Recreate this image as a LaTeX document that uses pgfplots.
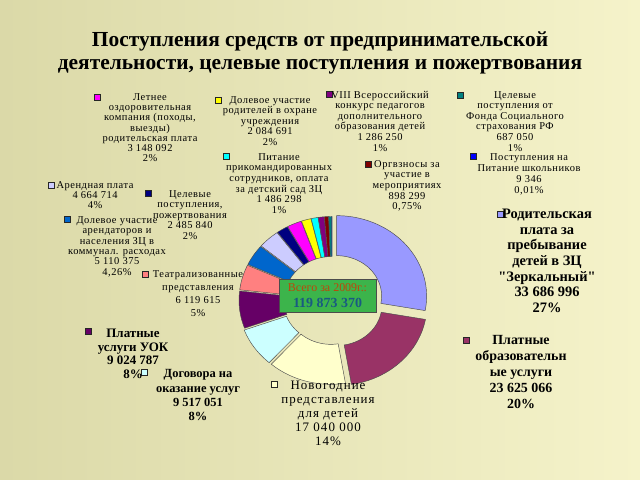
\documentclass[border=0pt]{standalone}
\usepackage{fontspec}
\setmainfont{Liberation Serif}
\newfontfamily\qfont{Liberation Serif}[Ligatures=TeXOff]
\usepackage{pgfplots}
\usepackage{pgfplotstable}
\pgfplotsset{compat=1.18}

\definecolor{c0}{HTML}{9999FF}
\definecolor{c1}{HTML}{993366}
\definecolor{c2}{HTML}{FFFFCC}
\definecolor{c3}{HTML}{CCFFFF}
\definecolor{c4}{HTML}{660066}
\definecolor{c5}{HTML}{FF8080}
\definecolor{c6}{HTML}{0066CC}
\definecolor{c7}{HTML}{CCCCFF}
\definecolor{c8}{HTML}{000080}
\definecolor{c9}{HTML}{FF00FF}
\definecolor{c10}{HTML}{FFFF00}
\definecolor{c11}{HTML}{00FFFF}
\definecolor{c12}{HTML}{800080}
\definecolor{c13}{HTML}{800000}
\definecolor{c14}{HTML}{008080}
\definecolor{c15}{HTML}{0000FF}
\definecolor{bgl}{RGB}{219,217,168}
\definecolor{bgr}{RGB}{245,243,202}
\definecolor{boxg}{RGB}{60,180,75}
\definecolor{totc}{RGB}{190,70,10}
\definecolor{totn}{RGB}{25,90,130}

% income items, roubles, in the order of the ring (clockwise from the top)
\pgfplotstableread{
value
33686996
23625066
17040000
9517051
9024787
6119615
5110375
4664714
2485840
3148092
2084691
1486298
1286250
898299
687050
9346
}\slices

\xdef\total{0}
\foreach \i in {0,...,15}{\pgfplotstablegetelem{\i}{value}\of\slices
  \xdef\total{\fpeval{\total+\pgfplotsretval}}}
\xdef\cum{0}
\foreach \i in {0,...,15}{\pgfplotstablegetelem{\i}{value}\of\slices
  \expandafter\xdef\csname sa\i\endcsname{\fpeval{round(90-360*\cum/\total,4)}}%
  \xdef\cum{\fpeval{\cum+\pgfplotsretval}}%
  \expandafter\xdef\csname ea\i\endcsname{\fpeval{round(90-360*\cum/\total,4)}}}

% ring geometry (in px of a 640x480 picture, y up)
\def\cx{332}\def\cy{180}\def\rxo{90}\def\ryo{80.5}\def\rxi{45}\def\ryi{40.5}

\newcommand\slice[4]{%
 \addplot[fill=#3, draw=black!70, line width=0.45pt, domain=0:2, samples=121, variable=\t]
 ({\cx+(#4)*cos(0.5*((#1)+(#2))) + (\t<1.001 ? \rxo : \rxi)*cos(\t<1.001 ? ((#1)+((#2)-(#1))*min(\t,1)) : ((#2)-((#2)-(#1))*max(\t-1-1/60,0)*60/59))},
  {\cy+(#4)*sin(0.5*((#1)+(#2))) + (\t<1.001 ? \ryo : \ryi)*sin(\t<1.001 ? ((#1)+((#2)-(#1))*min(\t,1)) : ((#2)-((#2)-(#1))*max(\t-1-1/60,0)*60/59))}) -- cycle;
}
\newcommand\ringslice[3]{\edef\tmp{\noexpand\slice{\csname sa#1\endcsname}{\csname ea#1\endcsname}{#2}{#3}}\tmp}
\newcommand\key[3]{\addplot[only marks, mark=square*, mark size=3.3, mark options={fill=#1, draw=black!85, line width=0.4pt}] coordinates {(#2,#3)};}
% label: [extra font], x, y of first line centre (image px), size, leading, text
\newcommand\lab[6][]{\node[anchor=north, align=center, inner sep=0, font=\fontsize{#4}{#5}\selectfont#1] at (#2,{480-(#3+0.3*#4-0.7*#5)}) {\strut #6};}
\newcommand\lsA{\addfontfeature{LetterSpace=5}}
\newcommand\lsB{\addfontfeature{LetterSpace=8}}
\newcommand\stq{{\qfont"}}

\begin{document}
\begin{tikzpicture}[x=1bp,y=1bp]
\useasboundingbox (0,0) rectangle (640,480);
\shade[left color=bgl, right color=bgr] (0,0) rectangle (640,480);
\begin{axis}[at={(0,0)}, anchor=south west, scale only axis, width=640bp, height=480bp,
  xmin=0, xmax=640, ymin=0, ymax=480, hide axis, clip=false]
\ringslice{0}{c0}{6}
\ringslice{1}{c1}{7}
\ringslice{2}{c2}{4}
\ringslice{3}{c3}{4}
\ringslice{4}{c4}{3}
\ringslice{5}{c5}{3}
\ringslice{6}{c6}{3}
\ringslice{7}{c7}{3}
\ringslice{8}{c8}{3}
\ringslice{9}{c9}{3}
\ringslice{10}{c10}{3}
\ringslice{11}{c11}{3}
\ringslice{12}{c12}{3}
\ringslice{13}{c13}{3}
\ringslice{14}{c14}{3}
\ringslice{15}{c15}{3}
\key{c9}{97}{383}
\key{c10}{218}{380}
\key{c12}{329}{386}
\key{c14}{460}{385}
\key{c11}{226}{324}
\key{c13}{368}{316}
\key{c15}{473}{324}
\key{c7}{51}{295}
\key{c8}{148}{287}
\key{c6}{67}{261}
\key{c5}{145}{206}
\key{c4}{88}{149}
\key{c3}{144}{108}
\key{c2}{274}{96}
\key{c1}{466}{140}
\key{c0}{500}{266}
\end{axis}

\lab[\bfseries]{320}{40}{21.5}{23}{Поступления средств от предпринимательской\\деятельности, целевые поступления и пожертвования}

\lab[\lsA]{150}{97}{10.5}{10.3}{Летнее\\оздоровительная\\компания (походы,\\выезды)\\родительская плата\\3 148 092\\2\%}
\lab[\lsA]{270}{100}{10.5}{10.5}{Долевое участие\\родителей в охране\\учреждения\\2 084 691\\2\%}
\lab[\lsA]{380}{95}{10.5}{10.6}{VIII Всероссийский\\конкурс педагогов\\дополнительного\\образования детей\\1 286 250\\1\%}
\lab[\lsA]{515}{95}{10.5}{10.6}{Целевые\\поступления от\\Фонда Социального\\страхования РФ\\687 050\\1\%}
\lab[\lsA]{279}{157}{10.5}{10.7}{Питание\\прикомандированных\\сотрудников, оплата\\за детский сад ЗЦ\\1 486 298\\1\%}
\lab[\lsA]{407}{164}{10.5}{10.7}{Оргвзносы за\\участие в\\мероприятиях\\898 299\\0,75\%}
\lab[\lsA]{529}{157}{10.5}{11}{Поступления на\\Питание школьников\\9 346\\0,01\%}
\lab[\lsA]{95}{185}{10.5}{10.2}{Арендная плата\\4 664 714\\4\%}
\lab[\lsA]{190}{194}{10.5}{10.5}{Целевые\\поступления,\\пожертвования\\2 485 840\\2\%}
\lab[\lsA]{117}{220}{10.5}{10.4}{Долевое участие\\арендаторов и\\населения ЗЦ в\\коммунал. расходах\\5 110 375\\4,26\%}
\lab[\lsA]{198}{274}{10.5}{13}{Театрализованные\\представления\\6 119 615\\5\%}
\lab[\bfseries]{133}{333}{13}{14}{Платные\\услуги УОК\\9 024 787\\8\%}
\lab[\bfseries]{198}{374}{12.5}{14.2}{Договора на\\оказание услуг\\9 517 051\\8\%}
\lab[\lsB]{328}{385}{13}{14.2}{Новогодние\\представления\\для детей\\17 040 000\\14\%}
\lab[\bfseries]{521}{340}{14}{16}{Платные\\образовательн\\ые услуги\\23 625 066\\20\%}
\lab[\bfseries]{547}{214}{14.5}{15.7}{Родительская\\плата за\\пребывание\\детей в ЗЦ\\\stq Зеркальный\stq\\33 686 996\\27\%}

\node[draw=black!70, line width=0.6pt, fill=boxg, minimum width=97bp, minimum height=33bp, inner sep=0] at (327.5,{480-295.5}) {};
\node[font=\fontsize{12}{13}\selectfont, text=totc, inner sep=0] at (327.5,{480-288}) {Всего за 2009г.:};
\node[font=\fontsize{14}{15}\selectfont\bfseries, text=totn, inner sep=0] at (327.5,{480-303}) {119 873 370};
\end{tikzpicture}
\end{document}
